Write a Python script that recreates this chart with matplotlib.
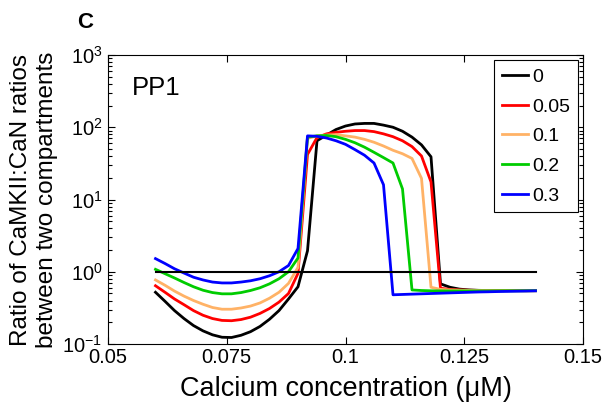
import matplotlib
matplotlib.use("Agg")
import matplotlib.pyplot as plt
import numpy as np
from matplotlib.ticker import LogLocator, NullFormatter

plt.rcParams['font.family'] = ['Liberation Sans', 'DejaVu Sans']

calcium = [0.060, 0.062, 0.064, 0.066, 0.068, 0.070, 0.072, 0.074, 0.076, 0.078,
           0.080, 0.082, 0.084, 0.086, 0.088, 0.090, 0.092, 0.094, 0.096, 0.098,
           0.100, 0.102, 0.104, 0.106, 0.108, 0.110, 0.112, 0.114, 0.116, 0.118,
           0.120, 0.122, 0.124, 0.126, 0.128, 0.130, 0.132, 0.134, 0.136, 0.138, 0.140]

pp1_0 = [0.52, 0.39, 0.29, 0.225, 0.18, 0.152, 0.134, 0.124, 0.123, 0.132,
         0.148, 0.175, 0.22, 0.29, 0.42, 0.62, 1.95, 65, 78, 93,
         104, 111, 113, 113, 107, 100, 88, 73, 57, 39,
         0.68, 0.61, 0.575, 0.56, 0.553, 0.55, 0.549, 0.548, 0.548, 0.547, 0.547]

pp1_005 = [0.64, 0.52, 0.42, 0.35, 0.29, 0.25, 0.225, 0.212, 0.21, 0.218,
           0.235, 0.265, 0.31, 0.38, 0.50, 0.95, 42, 72, 81, 85,
           88, 90, 90, 87, 81, 74, 65, 54, 40, 17.5,
           0.59, 0.57, 0.56, 0.555, 0.552, 0.55, 0.549, 0.548, 0.548, 0.547, 0.547]

pp1_01 = [0.77, 0.65, 0.54, 0.46, 0.40, 0.355, 0.32, 0.303, 0.303, 0.315,
          0.335, 0.37, 0.43, 0.52, 0.69, 1.15, 70, 76, 78, 79,
          76, 73, 68, 62, 55, 48, 43, 37, 19.6, 0.61,
          0.57, 0.56, 0.555, 0.552, 0.55, 0.549, 0.548, 0.548, 0.547, 0.547, 0.547]

pp1_02 = [1.08, 0.94, 0.82, 0.71, 0.62, 0.555, 0.515, 0.495, 0.495, 0.515,
          0.55, 0.60, 0.68, 0.80, 1.00, 1.55, 73, 76, 77, 74,
          68, 61, 53, 45, 38, 32, 14, 0.56, 0.55, 0.545,
          0.543, 0.542, 0.542, 0.542, 0.543, 0.543, 0.544, 0.545, 0.545, 0.546, 0.547]

pp1_03 = [1.52, 1.30, 1.10, 0.96, 0.84, 0.77, 0.72, 0.70, 0.70, 0.72,
          0.75, 0.80, 0.88, 1.00, 1.22, 2.10, 76, 75, 71, 65,
          58, 49, 41, 32, 16, 0.48, 0.485, 0.49, 0.495, 0.50,
          0.505, 0.51, 0.515, 0.52, 0.525, 0.528, 0.532, 0.535, 0.538, 0.541, 0.545]

series = [pp1_0, pp1_005, pp1_01, pp1_02, pp1_03]
labels = ['0', '0.05', '0.1', '0.2', '0.3']
colors = ['#000000', '#ff0000', '#ffb266', '#00cc00', '#0000ff']

x_ticks = [0.05, 0.075, 0.1, 0.125, 0.15]
x_tick_labels = ['0.05', '0.075', '0.1', '0.125', '0.15']

fig = plt.figure(figsize=(6.08, 4.13), dpi=100)
ax = fig.add_axes([108/608, 1-344/413, 475/608, 289/413])

for y, lab, c in zip(series, labels, colors):
    ax.plot(calcium, y, color=c, lw=2.0, label=lab)
ax.plot([calcium[0], calcium[-1]], [1, 1], color='black', lw=1.5)

ax.set_yscale('log')
ax.set_xlim(0.05, 0.15)
ax.set_ylim(0.1, 1000)
ax.set_xticks(x_ticks)
ax.set_xticklabels(x_tick_labels)
ax.yaxis.set_major_locator(LogLocator(base=10, numticks=10))
ax.yaxis.set_minor_locator(LogLocator(base=10, subs=np.arange(2, 10), numticks=20))
ax.yaxis.set_minor_formatter(NullFormatter())
ax.tick_params(which='both', direction='in', top=True, right=True, labelsize=14.5, width=0.8)
ax.tick_params(axis='x', pad=3)
ax.tick_params(axis='y', pad=4)
ax.tick_params(which='major', length=5)
ax.tick_params(which='minor', length=3)
for s in ax.spines.values():
    s.set_linewidth(0.8)

ax.set_xlabel('Calcium concentration (\u03bcM)', fontsize=19.5)
ax.xaxis.set_label_coords(0.5, -0.11)
ax.set_ylabel('Ratio of CaMKII:CaN ratios\nbetween two compartments', fontsize=17.5,
              labelpad=3, linespacing=1.22)

ax.text(0.05, 0.862, 'PP1', transform=ax.transAxes, fontsize=18.5, va='baseline', ha='left')
fig.text(85/608, 1-22/413, 'C', fontsize=16, fontweight='bold', ha='center', va='center')

leg = ax.legend(loc='upper right', fontsize=14, frameon=True, fancybox=False,
                edgecolor='black', framealpha=1, handlelength=1.35, handletextpad=0.2,
                labelspacing=0.62, borderpad=0.4, borderaxespad=0.28)
leg.get_frame().set_linewidth(0.8)

fig.savefig('out.png', dpi=100)
